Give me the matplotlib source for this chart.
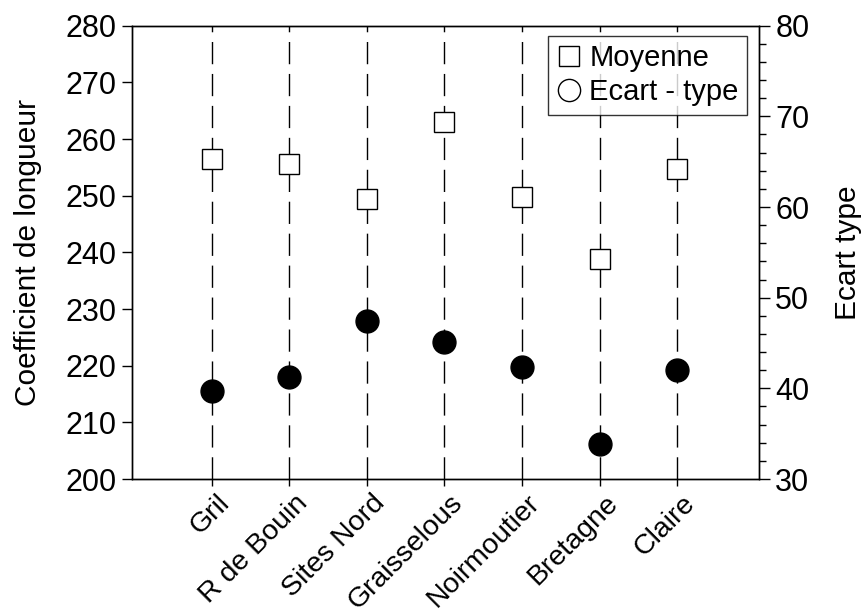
import matplotlib.pyplot as plt
import matplotlib.transforms as mtransforms
from matplotlib.lines import Line2D

# Data
sites = ["Gril", "R de Bouin", "Sites Nord", "Graisselous", "Noirmoutier", "Bretagne", "Claire"]
moyenne = [256.5, 255.6, 249.4, 263.0, 249.8, 238.9, 254.7]
ecart_type = [39.7, 41.2, 47.4, 45.1, 42.3, 33.9, 42.0]

plt.rcParams['font.family'] = ['Liberation Sans', 'DejaVu Sans']
fs = 22

fig = plt.figure(figsize=(8.66, 6.11), dpi=100)
ax = fig.add_axes([0.152, 0.216, 0.724, 0.742])
x = list(range(len(sites)))

# dashed vertical lines at each site
for xi in x:
    ax.axvline(xi, color='black', lw=1.0, dashes=(16, 7), zorder=1)

ax.plot(x, moyenne, ls='none', marker='s', markersize=15, mfc='white', mec='black', mew=1.0, zorder=3)
ax.set_xlim(-1.03, 7.05)
ax.set_ylim(200, 280)
ax.set_yticks(range(200, 281, 10))
ax.set_xticks(x)
ax.set_xticklabels(sites, rotation=45, ha='right', rotation_mode='anchor', fontsize=20.5)
ax.tick_params(axis='x', length=5, width=1, pad=3)
ax.tick_params(axis='y', labelsize=fs, length=7, width=1, pad=4)
ax.set_ylabel("Coefficient de longueur", fontsize=21.5, labelpad=17)

# nudge the rotated site names a little to the right
shift = mtransforms.ScaledTranslation(5 / 100, 0, fig.dpi_scale_trans)
for lab in ax.get_xticklabels():
    lab.set_transform(lab.get_transform() + shift)

ax2 = ax.twinx()
ax2.plot(x, ecart_type, ls='none', marker='o', markersize=16.5, mfc='black', mec='black', zorder=3)
ax2.set_ylim(30, 80)
ax2.set_yticks(range(30, 81, 10))
ax2.set_yticks(range(30, 81, 2), minor=True)
ax2.tick_params(axis='y', which='major', labelsize=fs, length=8, width=1, pad=4)
ax2.tick_params(axis='y', which='minor', length=5, width=1)
ax2.set_ylabel("Ecart type", fontsize=21.5, labelpad=18)

for a in (ax, ax2):
    for s in a.spines.values():
        s.set_linewidth(1.0)

handles = [
    Line2D([], [], ls='none', marker='s', markersize=15, mfc='white', mec='black', mew=1.0),
    Line2D([], [], ls='none', marker='o', markersize=16, mfc='white', mec='black', mew=1.0),
]
leg = ax2.legend(handles, ["Moyenne", "Ecart - type"], loc='upper right',
                 bbox_to_anchor=(0.982, 0.978), fontsize=21, frameon=True, fancybox=False,
                 edgecolor='black', handlelength=0.8, handletextpad=0.3, borderpad=0.3,
                 labelspacing=0.2, borderaxespad=0)
leg.get_frame().set_linewidth(1.0)

fig.savefig("out.png", dpi=100)
